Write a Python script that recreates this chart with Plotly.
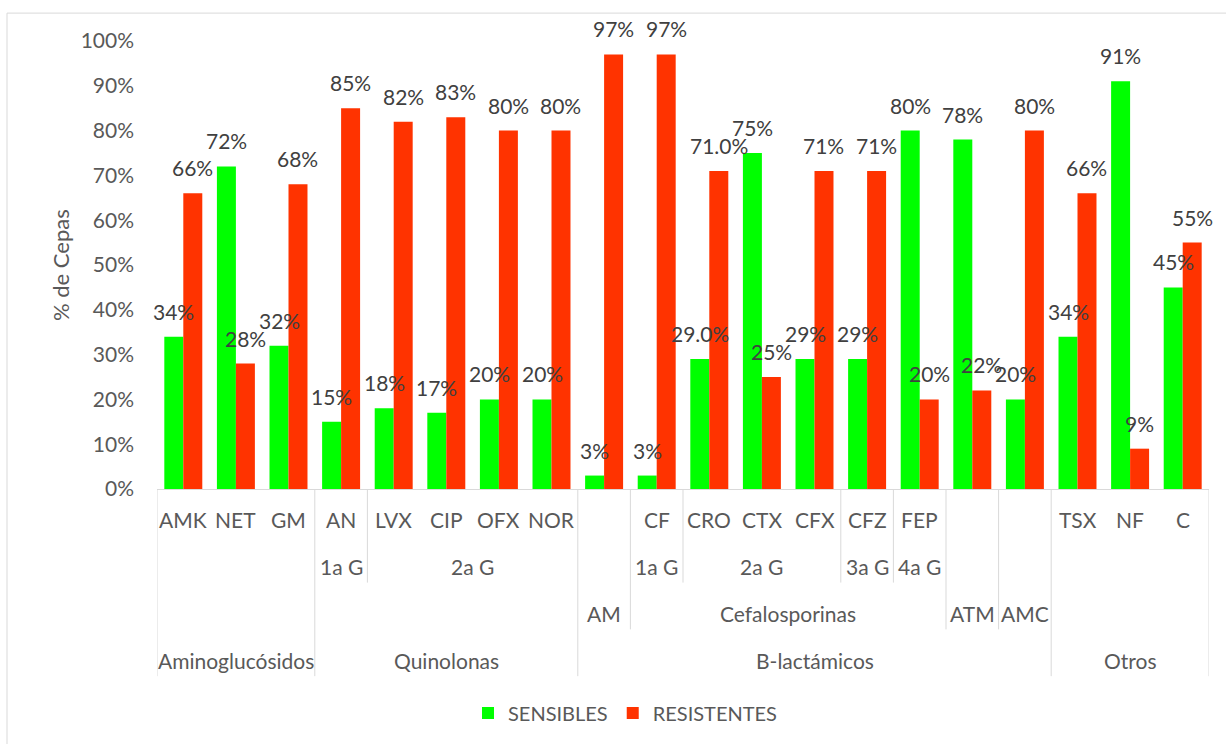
import plotly.graph_objects as go

# Antibiotic categories (lowest axis level) and the hierarchy above them
categorias = ["AMK", "NET", "GM", "AN", "LVX", "CIP", "OFX", "NOR", "", "CF",
              "CRO", "CTX", "CFX", "CFZ", "FEP", "", "", "TSX", "NF", "C"]
generacion = ["", "", "", "1a G", "2a G", "2a G", "2a G", "2a G", "", "1a G",
              "2a G", "2a G", "2a G", "3a G", "4a G", "", "", "", "", ""]
subfamilia = ["", "", "", "", "", "", "", "", "AM", "Cefalosporinas",
              "Cefalosporinas", "Cefalosporinas", "Cefalosporinas", "Cefalosporinas",
              "Cefalosporinas", "ATM", "AMC", "", "", ""]
familia = ["Aminoglucósidos"] * 3 + ["Quinolonas"] * 5 + ["B-lactámicos"] * 9 + ["Otros"] * 3

# Percentage of strains
sensibles = [34, 72, 32, 15, 18, 17, 20, 20, 3, 3, 29.0, 75, 29, 29, 80, 78, 20, 34, 91, 45]
resistentes = [66, 28, 68, 85, 82, 83, 80, 80, 97, 97, 71.0, 25, 71, 71, 20, 22, 80, 66, 9, 55]
# decimals shown in each data label
dec_sens = [0] * 10 + [1] + [0] * 9
dec_res = [0] * 10 + [1] + [0] * 9

# y axis ticks
y_ticks = list(range(0, 101, 10))
y_ticktext = [f"{t}%" for t in y_ticks]

VERDE = "#00FF00"
ROJO = "#FF3300"
GRIS_EJE = "#D9D9D9"
TXT_EJE = "#595959"
TXT_DATO = "#404040"
FUENTE = "Lato"

W_FIG, H_FIG = 1226, 744
M_L, M_R, M_T, M_B = 157, 17, 41, 253
W_PLOT = W_FIG - M_L - M_R
H_PLOT = H_FIG - M_T - M_B
BARGAP = 0.278
FILA = 47  # height of each axis label row, px

n = len(categorias)
xs = list(range(n))

fig = go.Figure()
fig.add_bar(x=xs, y=sensibles, name="SENSIBLES", marker=dict(color=VERDE, line=dict(width=0)))
fig.add_bar(x=xs, y=resistentes, name="RESISTENTES", marker=dict(color=ROJO, line=dict(width=0)))


def py(off):
    """paper y for a pixel offset below the x axis"""
    return -off / H_PLOT


def px(x_pixel):
    """paper x for an absolute pixel position"""
    return (x_pixel - M_L) / W_PLOT


anns = []
shapes = []

# data labels above each bar
cat_px = W_PLOT / n
half = (1 - BARGAP) * cat_px / 4
for serie, decs, dx in ((sensibles, dec_sens, -half), (resistentes, dec_res, half)):
    for i, (v, d) in enumerate(zip(serie, decs)):
        anns.append(dict(x=i, y=v, xref="x", yref="y", text=f"{v:.{d}f}%",
                         showarrow=False, xanchor="center", yanchor="bottom",
                         xshift=dx, yshift=11,
                         font=dict(family=FUENTE, size=21, color=TXT_DATO)))

# multi-level category axis
niveles = [categorias, generacion, subfamilia, familia]


def clave(i, k):
    return tuple(niveles[j][i] for j in range(k, len(niveles)))


# vertical separators: depth = highest level at which a new group begins
limites = {0: len(niveles), n: len(niveles)}
for i in range(1, n):
    prof = 0
    for k in range(1, len(niveles)):
        if clave(i, k) != clave(i - 1, k):
            prof = k + 1
    if prof >= 2:
        limites[i] = prof
for b, prof in limites.items():
    shapes.append(dict(type="line", xref="x", yref="paper", x0=b - 0.5, x1=b - 0.5,
                       y0=0, y1=py(FILA * prof), line=dict(color=GRIS_EJE, width=1)))

# group labels for each level
for k, nivel in enumerate(niveles):
    i = 0
    while i < n:
        j = i
        if k > 0:
            while j + 1 < n and clave(j + 1, k) == clave(i, k):
                j += 1
        if nivel[i]:
            anns.append(dict(x=(i + j) / 2, y=py(31 + FILA * k), xref="x", yref="paper",
                             text=nivel[i], showarrow=False, xanchor="center", yanchor="middle",
                             font=dict(family=FUENTE, size=21, color=TXT_EJE)))
        i = j + 1

# axis title
anns.append(dict(x=px(60), y=0.5, xref="paper", yref="paper", text="% de Cepas",
                 textangle=-90, showarrow=False, xanchor="center", yanchor="middle",
                 font=dict(family=FUENTE, size=22, color=TXT_EJE)))

# chart border
shapes.append(dict(type="rect", xref="paper", yref="paper",
                   x0=px(7), x1=px(1240), y0=py(-(491 - 13)), y1=py(760),
                   line=dict(color=GRIS_EJE, width=1), fillcolor="rgba(0,0,0,0)", layer="below"))

fig.update_layout(
    width=W_FIG, height=H_FIG, autosize=False,
    margin=dict(l=M_L, r=M_R, t=M_T, b=M_B),
    paper_bgcolor="white", plot_bgcolor="white",
    barmode="group", bargap=BARGAP, bargroupgap=0,
    font=dict(family=FUENTE, color=TXT_EJE),
    showlegend=True,
    legend=dict(orientation="h", x=px(625), xanchor="center", y=py(716 - 491), yanchor="middle",
                font=dict(family=FUENTE, size=20, color=TXT_EJE), traceorder="normal",
                itemwidth=30),
    xaxis=dict(range=[-0.5, n - 0.5], showticklabels=False, showgrid=False, zeroline=False,
               showline=True, linecolor=GRIS_EJE, linewidth=1, ticks="", fixedrange=True),
    yaxis=dict(range=[0, 100], tickvals=y_ticks, ticktext=y_ticktext,
               showgrid=False, zeroline=False, showline=False, ticks="",
               ticklabelstandoff=22,
               tickfont=dict(family=FUENTE, size=21, color=TXT_EJE)),
    annotations=anns,
    shapes=shapes,
)

fig.write_html("out.html")
